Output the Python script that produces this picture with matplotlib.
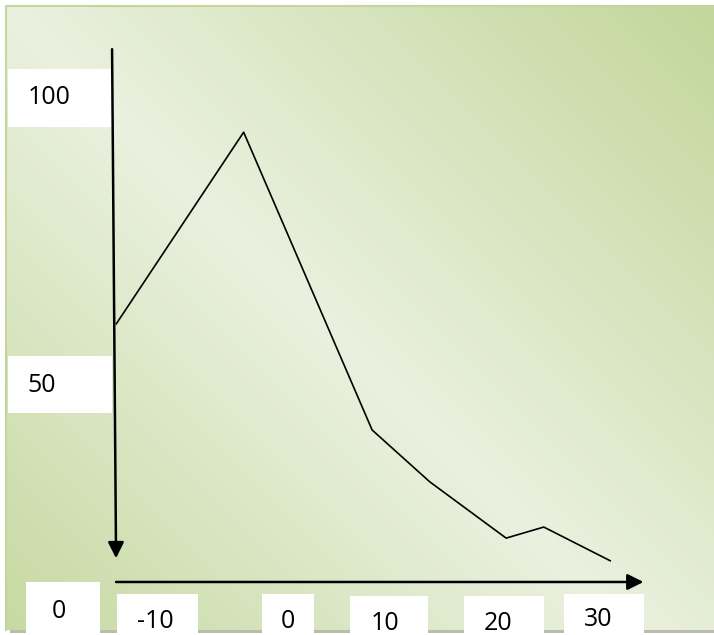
import matplotlib.pyplot as plt
import numpy as np
from matplotlib.patches import Rectangle
from matplotlib.colors import to_rgb

# Curve values (chart units)
curve_x = [-13.5, -2.0, 9.6, 14.8, 21.7, 25.1, 31.1]
curve_y = [54.9, 93.0, 33.8, 23.5, 12.3, 14.5, 7.8]

# Label texts
x_labels = ['-10', '0', '10', '20', '30']
y_labels = ['100', '50', '0']

# Drawing layout in picture pixels (boxes: left, top, right, bottom; text anchor)
W, H = 714, 635
x_boxes = [(117, 594, 198, 640), (262, 594, 314, 640), (350, 596, 428, 640),
           (464, 596, 544, 640), (564, 594, 644, 640)]
x_text_pos = [(155, 622), (288, 622), (385, 624), (498, 624), (598, 620)]
y_boxes = [(8, 69, 112, 127), (8, 356, 112, 413), (26, 582, 100, 640)]
y_text_pos = [(28, 97, 'left'), (27, 385, 'left'), (59, 612, 'center')]

light = np.array(to_rgb('#eaf1df'))
dark = np.array(to_rgb('#c3d69b'))

fig = plt.figure(figsize=(W / 100, H / 100), dpi=100)
fig.patch.set_facecolor('white')

# background layer in pixel coordinates
bg = fig.add_axes([0, 0, 1, 1])
bg.set_xlim(0, W)
bg.set_ylim(H, 0)
bg.axis('off')

# shadow and gradient panel
bg.add_patch(Rectangle((10, 10), W, 623, facecolor='#b9bdaa', edgecolor='none', zorder=0))
gx, gy = np.meshgrid(np.arange(6, W, 2), np.arange(6, 630, 2))
d = np.clip(np.abs(gx - gy) / 700.0, 0, 1)
img = light[None, None, :] * (1 - d[..., None]) + dark[None, None, :] * d[..., None]
bg.imshow(img, extent=(6, W, 630, 6), aspect='auto', zorder=1, interpolation='bilinear')
bg.plot([6, 6, W], [630, 6, 6], color='#c3d69b', lw=1.5, zorder=2)

font = 'Open Sans'
for (l, t, r, b) in x_boxes + y_boxes:
    bg.add_patch(Rectangle((l, t), r - l, b - t, facecolor='white', edgecolor='none', zorder=3))
for lab, (tx, ty) in zip(x_labels, x_text_pos):
    bg.text(tx, ty, lab, ha='center', va='center', fontsize=18, family=font, color='black', zorder=4)
for lab, (tx, ty, ha) in zip(y_labels, y_text_pos):
    bg.text(tx, ty, lab, ha=ha, va='center', fontsize=18, family=font, color='black', zorder=4)

# chart layer in chart units
ax = fig.add_axes([0, 0, 1, 1])
ax.patch.set_alpha(0)
ax.set_xlim(-24.0, 40.47)
ax.set_ylim(-6.96, 119.28)
ax.axis('off')

ax.plot(curve_x, curve_y, color='black', lw=1.2, zorder=5)

# hand-drawn axis arrows
ax.annotate('', xy=(-13.52, 8.3), xytext=(-13.88, 109.5),
            arrowprops=dict(arrowstyle='-|>', color='black', lw=1.8, mutation_scale=24,
                            shrinkA=0, shrinkB=0))
ax.annotate('', xy=(34.1, 3.58), xytext=(-13.52, 3.58),
            arrowprops=dict(arrowstyle='-|>', color='black', lw=1.8, mutation_scale=24,
                            shrinkA=0, shrinkB=0))

plt.savefig('out.png', dpi=100)
plt.close()
